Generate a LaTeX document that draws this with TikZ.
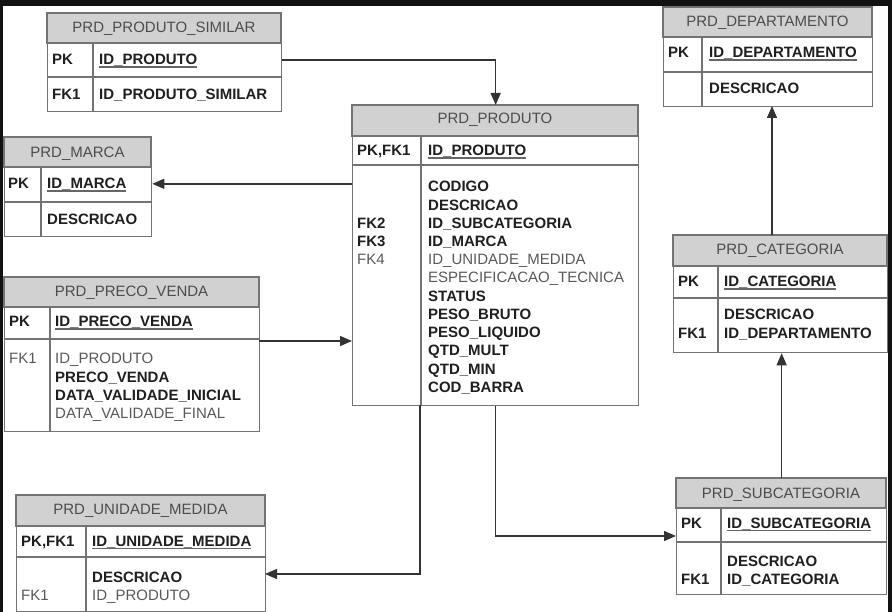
\documentclass[tikz,border=0pt]{standalone}
\usepackage{fontspec}
\setmainfont{Liberation Sans}
\usetikzlibrary{arrows.meta}

\newcommand\keyline[1]{\setbox0=\hbox{#1}\rlap{\textcolor{black!60}{\rule[-2.6pt]{\wd0}{1.1pt}}}\box0}

\tikzset{
  tblbox/.style={draw=black!55, line width=1.3pt, anchor=north west, inner sep=0pt},
  tblhead/.style={fill=black!18, draw=black!55, line width=1.3pt},
  tblrule/.style={draw=black!55, line width=1.3pt},
  tbltitle/.style={anchor=base, inner sep=0pt, text=black!70, font=\fontsize{15}{18}\selectfont},
  keyb/.style={anchor=base west, inner sep=0pt, text=black!88, font=\fontsize{15}{18}\selectfont\bfseries},
  keyr/.style={anchor=base west, inner sep=0pt, text=black!65, font=\fontsize{15}{18}\selectfont},
  fk/.style={draw=black!80, line width=1.4pt, -{Triangle[length=12pt,width=10pt]}},
}

\begin{document}
\begin{tikzpicture}[x=1pt,y=-1pt]
        \useasboundingbox (0,0) rectangle (892,612);
        \fill[black!93] (0,0) rectangle (892,612);
        \fill[white] (3,6) rectangle (888,612);

        % PRD_PRODUTO_SIMILAR
        \draw[tblhead] (47,13) rectangle (281,43);
        \draw[tblrule] (47,77) -- (281,77) (93,43) -- (93,111);
        \node[tblbox, minimum width=234pt, minimum height=98pt] (similar) at (47,13) {};
        \node[tbltitle] (similar-t) at (164,33) {PRD\_PRODUTO\_SIMILAR};
        \node[keyb] (similar-k1) at (52,65) {PK};
        \node[keyb] (similar-f1) at (99,65) {\keyline{ID\_PRODUTO}};
        \node[keyb] (similar-k2) at (52,100) {FK1};
        \node[keyb] (similar-f2) at (99,100) {ID\_PRODUTO\_SIMILAR};

        % PRD_MARCA
        \draw[tblhead] (4,137) rectangle (151,167);
        \draw[tblrule] (4,202) -- (151,202) (41,167) -- (41,236);
        \node[tblbox, minimum width=147pt, minimum height=99pt] (marca) at (4,137) {};
        \node[tbltitle] (marca-t) at (77.5,158) {PRD\_MARCA};
        \node[keyb] (marca-k1) at (8,189) {PK};
        \node[keyb] (marca-f1) at (47,189) {\keyline{ID\_MARCA}};
        \node[keyb] (marca-f2) at (47,225) {DESCRICAO};

        % PRD_PRODUTO
        \draw[tblhead] (352,105) rectangle (638,136);
        \draw[tblrule] (352,165) -- (638,165) (421,136) -- (421,405);
        \node[tblbox, minimum width=286pt, minimum height=300pt] (produto) at (352,105) {};
        \node[tbltitle] (produto-t) at (495,124) {PRD\_PRODUTO};
        \node[keyb] (produto-k1) at (357,156) {PK,FK1};
        \node[keyb] (produto-f1) at (428,156) {\keyline{ID\_PRODUTO}};
        \foreach \txt/\sty [count=\i from 0] in {CODIGO/keyb, DESCRICAO/keyb,
            ID\_SUBCATEGORIA/keyb, ID\_MARCA/keyb, ID\_UNIDADE\_MEDIDA/keyr,
            ESPECIFICACAO\_TECNICA/keyr, STATUS/keyb, PESO\_BRUTO/keyb,
            PESO\_LIQUIDO/keyb, QTD\_MULT/keyb, QTD\_MIN/keyb, COD\_BARRA/keyb}
          \node[\sty] (produto-c\i) at (428,{192+18.2*\i}) {\txt};
        \node[keyb] (produto-k2) at (357,228.4) {FK2};
        \node[keyb] (produto-k3) at (357,246.6) {FK3};
        \node[keyr] (produto-k4) at (357,264.8) {FK4};

        % PRD_DEPARTAMENTO
        \draw[tblhead] (663,7) rectangle (872,37);
        \draw[tblrule] (663,72) -- (872,72) (702,37) -- (702,106);
        \node[tblbox, minimum width=209pt, minimum height=99pt] (dep) at (663,7) {};
        \node[tbltitle] (dep-t) at (767.5,27) {PRD\_DEPARTAMENTO};
        \node[keyb] (dep-k1) at (668,58) {PK};
        \node[keyb] (dep-f1) at (709,58) {\keyline{ID\_DEPARTAMENTO}};
        \node[keyb] (dep-f2) at (709,94) {DESCRICAO};

        % PRD_CATEGORIA
        \draw[tblhead] (673,235) rectangle (887,266);
        \draw[tblrule] (673,298) -- (887,298) (718,266) -- (718,352);
        \node[tblbox, minimum width=214pt, minimum height=117pt] (cat) at (673,235) {};
        \node[tbltitle] (cat-t) at (780,255) {PRD\_CATEGORIA};
        \node[keyb] (cat-k1) at (678,287) {PK};
        \node[keyb] (cat-f1) at (724,287) {\keyline{ID\_CATEGORIA}};
        \node[keyb] (cat-f2) at (724,320) {DESCRICAO};
        \node[keyb] (cat-k2) at (678,339) {FK1};
        \node[keyb] (cat-f3) at (724,339) {ID\_DEPARTAMENTO};

        % PRD_PRECO_VENDA
        \draw[tblhead] (4,277) rectangle (259,307);
        \draw[tblrule] (4,339) -- (259,339) (50,307) -- (50,431);
        \node[tblbox, minimum width=255pt, minimum height=154pt] (preco) at (4,277) {};
        \node[tbltitle] (preco-t) at (131.5,297) {PRD\_PRECO\_VENDA};
        \node[keyb] (preco-k1) at (9,327) {PK};
        \node[keyb] (preco-f1) at (55,327) {\keyline{ID\_PRECO\_VENDA}};
        \node[keyr] (preco-k2) at (9,364) {FK1};
        \node[keyr] (preco-f2) at (55,364) {ID\_PRODUTO};
        \node[keyb] (preco-f3) at (55,382.3) {PRECO\_VENDA};
        \node[keyb] (preco-f4) at (55,400.6) {DATA\_VALIDADE\_INICIAL};
        \node[keyr] (preco-f5) at (55,418.9) {DATA\_VALIDADE\_FINAL};

        % PRD_UNIDADE_MEDIDA
        \draw[tblhead] (16,495) rectangle (265,526);
        \draw[tblrule] (16,557) -- (265,557) (86,526) -- (86,611);
        \node[tblbox, minimum width=249pt, minimum height=116pt] (unid) at (16,495) {};
        \node[tbltitle] (unid-t) at (140.5,514) {PRD\_UNIDADE\_MEDIDA};
        \node[keyb] (unid-k1) at (21,546) {PK,FK1};
        \node[keyb] (unid-f1) at (92,546) {\keyline{ID\_UNIDADE\_MEDIDA}};
        \node[keyb] (unid-f2) at (92,582) {DESCRICAO};
        \node[keyr] (unid-k2) at (21,600) {FK1};
        \node[keyr] (unid-f3) at (92,600) {ID\_PRODUTO};

        % PRD_SUBCATEGORIA
        \draw[tblhead] (676,478) rectangle (886,508);
        \draw[tblrule] (676,542) -- (886,542) (721,508) -- (721,594);
        \node[tblbox, minimum width=210pt, minimum height=116pt] (sub) at (676,478) {};
        \node[tbltitle] (sub-t) at (781,498) {PRD\_SUBCATEGORIA};
        \node[keyb] (sub-k1) at (681,528) {PK};
        \node[keyb] (sub-f1) at (727,528) {\keyline{ID\_SUBCATEGORIA}};
        \node[keyb] (sub-f2) at (727,566) {DESCRICAO};
        \node[keyb] (sub-k2) at (681,584) {FK1};
        \node[keyb] (sub-f3) at (727,584) {ID\_CATEGORIA};

        % relationships
        \coordinate (preco-out) at (259,341);
        \coordinate (produto-um) at (420,405);
        \coordinate (unid-in) at (265,574);
        \coordinate (sub-in) at (676,536);
        \coordinate (dep-in) at (772,106);
        \draw[fk] (similar.east |- similar-k1) -| (produto.north);
        \draw[fk] (produto.west |- marca-k1) -- (marca.east |- marca-k1);
        \draw[fk] (preco-out) -- (produto.west |- preco-out);
        \draw[fk] (produto-um) |- (unid-in);
        \draw[fk] (produto.south) |- (sub-in);
        \draw[fk] (sub.north) -- (sub.north |- cat.south);
        \draw[fk] (cat.north -| dep-in) -- (dep-in);

      \end{tikzpicture}
\end{document}
